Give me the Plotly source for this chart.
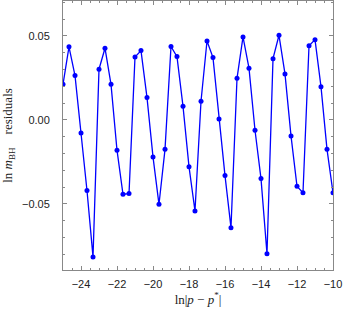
import plotly.graph_objects as go

x_vals = [-25.0, -24.667, -24.333, -24.0, -23.667, -23.333, -23.0, -22.667, -22.333, -22.0,
          -21.667, -21.333, -21.0, -20.667, -20.333, -20.0, -19.667, -19.333, -19.0, -18.667,
          -18.333, -18.0, -17.667, -17.333, -17.0, -16.667, -16.333, -16.0, -15.667, -15.333,
          -15.0, -14.667, -14.333, -14.0, -13.667, -13.333, -13.0, -12.667, -12.333, -12.0,
          -11.667, -11.333, -11.0, -10.667, -10.333, -10.0]
residuals = [0.0212, 0.0435, 0.0264, -0.0077, -0.0420, -0.0815, 0.0302, 0.0427, 0.0212, -0.0180,
             -0.0442, -0.0438, 0.0375, 0.0413, 0.0133, -0.0220, -0.0502, -0.0175, 0.0437, 0.0377,
             0.0081, -0.0278, -0.0542, 0.0111, 0.0470, 0.0371, 0.0006, -0.0331, -0.0641, 0.0248,
             0.0494, 0.0308, -0.0061, -0.0349, -0.0796, 0.0365, 0.0504, 0.0274, -0.0095, -0.0395,
             -0.0433, 0.0442, 0.0478, 0.0198, -0.0175, -0.0433]

x_ticks = [-24, -22, -20, -18, -16, -14, -12, -10]
x_tick_labels = ["\u221224", "\u221222", "\u221220", "\u221218", "\u221216", "\u221214", "\u221212", "\u221210"]
y_ticks = [-0.05, 0.0, 0.05]
y_tick_labels = ["\u22120.05", "0.00", "0.05"]

fig = go.Figure()
fig.add_trace(go.Scatter(
    x=x_vals, y=residuals, mode="lines+markers",
    line=dict(color="#0000FF", width=1.3),
    marker=dict(color="#0000FF", size=5),
    showlegend=False,
))

frame = "#888888"
fig.update_layout(
    width=346, height=312,
    margin=dict(l=63, r=13, t=1, b=42),
    paper_bgcolor="white", plot_bgcolor="white",
    font=dict(family="Liberation Sans, Arial, sans-serif", size=11, color="#222222"),
)
fig.update_xaxes(
    range=[-25, -10], tickmode="array", tickvals=x_ticks, ticktext=x_tick_labels,
    showgrid=False, zeroline=False, showline=True, linecolor=frame, linewidth=1, mirror="ticks",
    ticks="inside", ticklen=4, tickcolor=frame, tickwidth=1,
    minor=dict(dtick=0.5, tick0=-25, ticks="inside", ticklen=2, tickcolor=frame, showgrid=False),
    ticklabelstandoff=4,
    title=dict(text="ln|<i>p</i> \u2212 <i>p</i><sup>*</sup>|",
               font=dict(family="Liberation Serif, Times New Roman, serif", size=13, color="#222222"),
               standoff=4),
)
fig.update_yaxes(
    range=[-0.0893, 0.0708], tickmode="array", tickvals=y_ticks, ticktext=y_tick_labels,
    showgrid=False, zeroline=False, showline=True, linecolor=frame, linewidth=1, mirror="ticks",
    ticks="inside", ticklen=4, tickcolor=frame, tickwidth=1,
    minor=dict(dtick=0.01, tick0=0, ticks="inside", ticklen=2, tickcolor=frame, showgrid=False),
    ticklabelstandoff=10,
    title=dict(text="ln <i>m</i><sub>BH</sub>    residuals",
               font=dict(family="Liberation Serif, Times New Roman, serif", size=13, color="#222222"),
               standoff=6),
)

fig.write_html("out.html", config={"displayModeBar": False},
               post_script="document.body.style.margin='0';document.body.style.overflow='hidden';")
